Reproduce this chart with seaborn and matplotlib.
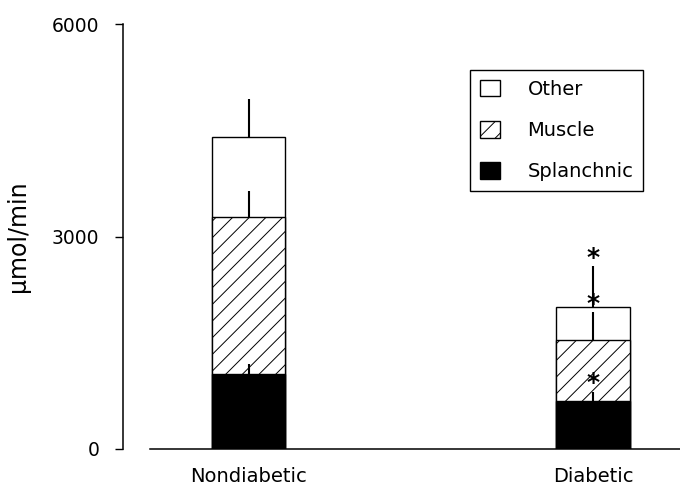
import numpy as np
import pandas as pd
import matplotlib
matplotlib.use("Agg")
import matplotlib.pyplot as plt
import seaborn as sns
from matplotlib.patches import Patch

# values (umol/min)
groups = ["Nondiabetic", "Diabetic"]
splanchnic = [1060, 680]
muscle = [2210, 860]
other = [1135, 460]
splanchnic_err = [140, 130]
muscle_err = [370, 390]
other_err = [540, 580]
significant = [False, True]

sns.set_style("white")
plt.rcParams['font.family'] = ['DejaVu Sans']
plt.rcParams['hatch.linewidth'] = 0.7
plt.rcParams['text.color'] = 'black'
plt.rcParams['axes.labelcolor'] = 'black'
plt.rcParams['xtick.color'] = 'black'
plt.rcParams['ytick.color'] = 'black'

df = pd.DataFrame({"group": groups, "splanchnic": splanchnic, "muscle": muscle, "other": other})
df["muscle_top"] = df["splanchnic"] + df["muscle"]
df["total"] = df["muscle_top"] + df["other"]

fig = plt.figure(figsize=(6.8, 4.87), dpi=100)
ax = fig.add_axes([150 / 680, 1 - 449 / 487, 530 / 680, 425 / 487])

bar_kw = dict(x="group", width=0.212, edgecolor="black", linewidth=1, saturation=1, ax=ax, errorbar=None)
sns.barplot(data=df, y="total", color="white", **bar_kw)
sns.barplot(data=df, y="muscle_top", color="white", hatch="//", **bar_kw)
sns.barplot(data=df, y="splanchnic", color="black", **bar_kw)

# one-sided error bars on top of each segment
x = np.arange(len(groups))
tops = [df["splanchnic"].values, df["muscle_top"].values, df["total"].values]
errs = [np.array(splanchnic_err), np.array(muscle_err), np.array(other_err)]
for top, err in zip(tops, errs):
    ax.errorbar(x, top, yerr=[np.zeros(len(x)), err], fmt="none", ecolor="black",
                elinewidth=1.5, capsize=0, zorder=5)
    for i in range(len(x)):
        if significant[i]:
            ax.text(x[i], top[i] + err[i] + 120, "*", ha="center", va="center",
                    fontsize=18, fontweight="bold", zorder=6)

ax.set_xlim(-0.286, 1.2525)
ax.set_ylim(0, 6000)
ax.set_yticks([0, 3000, 6000])
ax.set_xlabel("")
ax.set_ylabel("μmol/min", fontsize=17)
ax.yaxis.set_label_coords(-0.2264, 0.5)
ax.tick_params(axis="y", left=True, length=6, width=1, pad=11, labelsize=13.5, direction="out")
ax.tick_params(axis="x", length=0, pad=13, labelsize=14)

for side in ["top", "right"]:
    ax.spines[side].set_visible(False)
ax.spines["left"].set_position(("outward", 19.4))
for side in ["left", "bottom"]:
    ax.spines[side].set_color("black")
    ax.spines[side].set_linewidth(1.1)

handles = [
    Patch(facecolor="white", edgecolor="black", label="Other"),
    Patch(facecolor="white", edgecolor="black", hatch="//", label="Muscle"),
    Patch(facecolor="black", edgecolor="black", label="Splanchnic"),
]
leg = ax.legend(handles=handles, loc="upper right", bbox_to_anchor=(643 / 680, 1 - 70 / 487),
                bbox_transform=fig.transFigure, frameon=True, fancybox=False, edgecolor="black",
                fontsize=14, handlelength=1.03, handleheight=0.93, labelspacing=1.15,
                handletextpad=1.4, borderpad=0.5, borderaxespad=0)
leg.get_frame().set_linewidth(1)
leg.get_frame().set_alpha(None)

fig.savefig("out.png", dpi=100)
